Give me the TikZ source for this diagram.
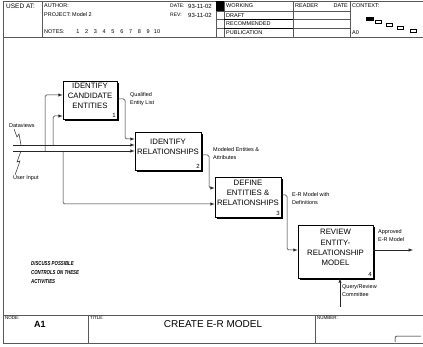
\documentclass[tikz,border=0pt]{standalone}
\usepackage{fontspec}
\setmainfont{Liberation Sans}
\newfontfamily\narrowsans[FakeStretch=0.75]{Liberation Sans}
\usetikzlibrary{shadows}

\begin{document}
\begin{tikzpicture}[x=1pt, y=-1pt, >=latex,
    form/.style={gray!70!black, line width=0.5pt},
    activity/.style={draw, fill=white, line width=0.7pt, inner sep=0pt,
      drop shadow={shadow xshift=2pt, shadow yshift=-2pt, fill=black, opacity=1},
      path picture={\fill (path picture bounding box.north west)
        -- ++(5pt,0pt) -- ++(-5pt,-5pt) -- cycle;}},
    acttext/.style={align=center, inner sep=0pt, font=\fontsize{7.8}{10.2}\selectfont},
    boxno/.style={anchor=south east, inner sep=1.5pt, font=\fontsize{6}{6}\selectfont},
    flow/.style={->, black!85, line width=0.5pt, rounded corners=1.5pt},
    squiggle/.style={black!85, line width=0.5pt},
    arrowlabel/.style={anchor=west, inner sep=0pt, align=left, font=\fontsize{5.5}{8}\selectfont},
    formtext/.style={anchor=west, inner sep=0pt, font=\fontsize{5.5}{6}\selectfont},
    smalltext/.style={anchor=west, inner sep=0pt, font=\fontsize{4.5}{5}\selectfont}]

  \useasboundingbox (0,0) rectangle (423,347);

  % form header
  \draw[form] (3,1) -- (423,1);
  \draw[form] (3,37) -- (423,37);
  \draw[form] (3,1) -- (3,343);
  \foreach \xx in {42,216,224,293,350}
    \draw[form] (\xx,1) -- (\xx,37);
  \foreach \yy in {11,19.5,28}
    \draw[form] (216,\yy) -- (350,\yy);
  \fill (216,1) rectangle (224,11);
  \draw[line width=0.8pt] (224,19.5) -- (293,19.5) (224,28) -- (293,28);

  \node[formtext, font=\fontsize{6.5}{7}\selectfont] (usedat) at (6,6) {USED AT:};
  \node[formtext] (author) at (44,6) {AUTHOR:};
  \node[formtext] (project) at (44,15) {PROJECT:};
  \node[formtext] (model) at (72,15) {Model 2};
  \node[formtext, font=\fontsize{5}{6}\selectfont] (date) at (170,6) {DATE:};
  \node[formtext, font=\fontsize{6}{7}\selectfont] (datev) at (188,6) {93-11-02};
  \node[formtext, font=\fontsize{5}{6}\selectfont] (rev) at (170,15) {REV:};
  \node[formtext, font=\fontsize{6}{7}\selectfont] (revv) at (188,15) {93-11-02};
  \node[formtext] (notes) at (44,32) {NOTES:};
  \foreach \nn in {1,...,10}
    \node[formtext, anchor=center] (note\nn) at ({69+8.8*\nn},32) {\nn};

  \node[formtext] (working) at (226,6) {WORKING};
  \node[formtext] (draft) at (226,15.25) {DRAFT};
  \node[formtext] (recommended) at (226,23.75) {RECOMMENDED};
  \node[formtext] (publication) at (226,32.5) {PUBLICATION};
  \node[formtext] (reader) at (295,6) {READER};
  \node[formtext, anchor=east] (rdate) at (348,6) {DATE};
  \node[formtext] (context) at (352,6) {CONTEXT:};
  \node[formtext] (ctxnode) at (352,32.5) {A0};
  \fill (366,17) rectangle (374,21);
  \foreach \xx/\yy in {375/20, 386/23, 397/26, 410/29}
    \draw[line width=0.4pt] (\xx,\yy) rectangle ++(6,3);

  % activities
  \node[activity, minimum width=54pt, minimum height=38pt] (candidates) at (90,100) {};
  \node[acttext] (candidates-t) at ([yshift=4pt]candidates.center) {IDENTIFY\\CANDIDATE\\ENTITIES};
  \node[boxno] (candidates-n) at (candidates.south east) {1};

  \node[activity, minimum width=66pt, minimum height=38pt] (relations) at (168,151) {};
  \node[acttext] (relations-t) at ([yshift=4pt]relations.center) {IDENTIFY\\RELATIONSHIPS};
  \node[boxno] (relations-n) at (relations.south east) {2};

  \node[activity, minimum width=66pt, minimum height=40pt] (define) at (248,197) {};
  \node[acttext] (define-t) at ([yshift=4pt]define.center) {DEFINE\\ENTITIES \&\\RELATIONSHIPS};
  \node[boxno] (define-n) at (define.south east) {3};

  \node[activity, minimum width=75pt, minimum height=53pt] (review) at (335.5,251.5) {};
  \node[acttext] (review-t) at ([yshift=4pt]review.center) {REVIEW\\ENTITY-\\RELATIONSHIP\\MODEL};
  \node[boxno] (review-n) at (review.south east) {4};

  % inputs
  \coordinate (dv) at (13,145);
  \coordinate (ui) at (13,151);
  \coordinate (ui-a) at (45,151);
  \coordinate (dv-a) at (53,145);
  \coordinate (ui-b) at (63,151);
  \draw[flow] (dv) -- (dv -| relations.west);
  \draw[flow] (ui) -- (ui -| relations.west);
  \draw[flow] (ui-a) |- (candidates.west |- 0,95);
  \draw[flow] (dv-a) |- (candidates.west |- 0,116);
  \draw[flow] (ui-b) |- (define.west |- 0,204);
  \node[arrowlabel] (dvlabel) at (9,126) {Dataviews};
  \draw[squiggle] (14,129) -- (17,137) -- (19,134) -- (21,145);
  \node[arrowlabel] (uilabel) at (13,178) {User Input};
  \draw[squiggle] (21,151) -- (17,162) -- (20,161) -- (15,175);

  % outputs
  \draw[flow] (candidates.east |- 0,99) -| (125,139) -- (relations.west |- 0,139);
  \node[arrowlabel] (qel) at (130,99) {Qualified\\Entity List};
  \draw[flow] (relations.east |- 0,155) -| (209,188) -- (define.west |- 0,188);
  \node[arrowlabel] (mea) at (213,154) {Modeled Entities \&\\Attributes};
  \draw[flow] (define.east |- 0,195) -| (287,250) -- (review.west |- 0,250);
  \node[arrowlabel] (erm) at (292,199) {E-R Model with\\Definitions};
  \coordinate (approved) at (413,250);
  \draw[flow] (review.east |- 0,250) -- (approved);
  \node[arrowlabel] (appr) at (378,236) {Approved\\E-R Model};

  % mechanism
  \coordinate (committee) at (340,307);
  \draw[flow] (committee) -- (committee |- review.south);
  \node[arrowlabel] (qrc) at (342,291) {Query/Review\\Committee};

  \node[anchor=north west, align=left, inner sep=0pt,
    font=\narrowsans\bfseries\itshape\fontsize{5.8}{9}\selectfont] (discuss) at (31,261)
    {DISCUSS POSSIBLE\\CONTROLS ON THESE\\ACTIVITIES};

  % form footer
  \draw[form] (3,315) -- (423,315);
  \draw[form] (3,343) -- (423,343);
  \draw[form] (88,315) -- (88,343);
  \draw[form] (315,315) -- (315,343);
  \node[smalltext] (nodelbl) at (5,318) {NODE:};
  \node[font=\bfseries\fontsize{9}{10}\selectfont] (nodeno) at (40,324) {A1};
  \node[smalltext] (titlelbl) at (90,318) {TITLE:};
  \node[font=\fontsize{10}{12}\selectfont] (title) at (213,324) {CREATE E-R MODEL};
  \node[smalltext] (numberlbl) at (317,318) {NUMBER:};
  \draw[rounded corners=1.5pt, line width=0.5pt] (395,342) |- (421,336);
\end{tikzpicture}
\end{document}
